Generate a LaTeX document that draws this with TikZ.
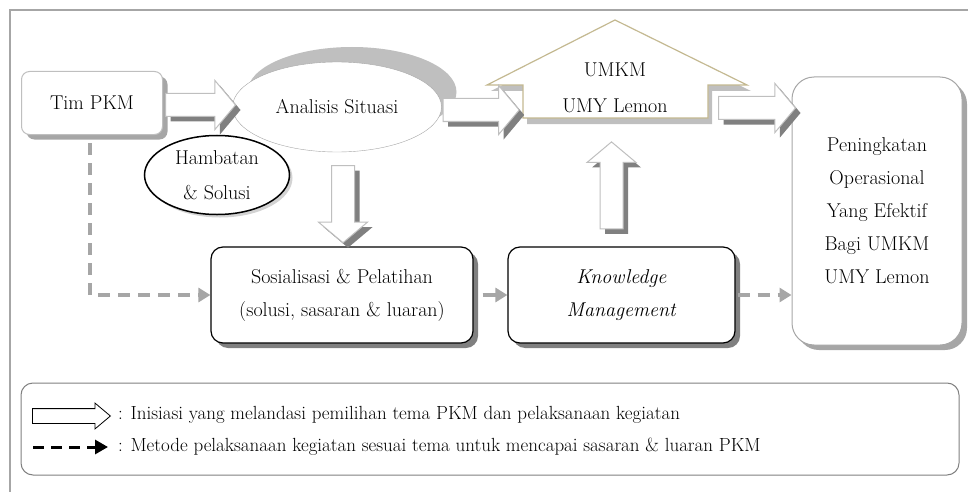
\documentclass[tikz,border=0pt]{standalone}
\usepackage{fontspec}
\usepackage{tikz}
\usetikzlibrary{shapes.arrows,shapes.geometric,arrows.meta,shadows,calc}

\definecolor{abu}{HTML}{A6A6A6}
\definecolor{abumuda}{HTML}{BFBFBF}
\definecolor{abutua}{HTML}{808080}
\definecolor{emas}{HTML}{C4B991}

\tikzset{
  huruf/.style={font=\fontsize{20}{33}\selectfont},
  kotak/.style={rectangle, rounded corners=#1, fill=white, align=center, huruf},
  bayang/.style={preaction={fill=#1, draw=none, transform canvas={shift={(5pt,-5pt)}}}},
  blok/.style={single arrow, draw=abumuda, line width=1pt, fill=white, inner xsep=0pt,
      inner ysep=11pt, single arrow head extend=13pt, single arrow tip angle=100,
      minimum height=#1, anchor=tail, bayang=abutua},
  putus/.style={draw=abu, line width=3.5pt, dash pattern=on 12pt off 8pt,
      -{Triangle[length=12pt,width=14pt]}},
}

\begin{document}
\begin{tikzpicture}[x=1pt,y=-1pt]
\useasboundingbox (0,0) rectangle (968,492);
\draw[abu, line width=1.5pt] (10,492) -- (10,10) -- (968,10);

% kotak utama
\node[kotak=8pt, draw=abumuda, line width=1pt, minimum width=141pt, minimum height=63pt,
      bayang=gray!70] (tim) at (92,103) {Tim PKM};
\node[ellipse, draw=abu, fill=white, huruf, minimum width=209pt, minimum height=90pt,
      preaction={fill=abumuda, draw=none, transform canvas={shift={(15pt,15pt)}}}]
      (ana) at (337,107) {Analisis Situasi};
\node[ellipse, draw=black, line width=1.5pt, fill=white, align=center,
      font=\fontsize{20}{35}\selectfont, minimum width=145pt, minimum height=75pt,
      drop shadow={opacity=.35, shadow xshift=3pt, shadow yshift=-3pt}]
      (ham) at (217,175) {Hambatan\\\& Solusi};

% rumah UMKM
\draw[emas, line width=1.2pt, fill=white,
      preaction={fill=abumuda, draw=none, transform canvas={shift={(4pt,-6pt)}}}]
  (615,20) -- (747,85) -- (708,85) -- (708,118) -- (523,118) -- (523,85) -- (487,85) -- cycle;
\node[align=center, font=\fontsize{20}{36}\selectfont] (umkm) at (615,88) {UMKM\\UMY Lemon};
\coordinate (dinding) at (708,108);

\node[kotak=12pt, draw=black, line width=1.2pt, minimum width=262pt, minimum height=96pt,
      bayang=abutua] (sos) at (342,295) {Sosialisasi \& Pelatihan\\(solusi, sasaran \& luaran)};
\node[kotak=12pt, draw=black, line width=1.2pt, minimum width=227pt, minimum height=96pt,
      bayang=abutua] (know) at (621.5,295) {\textit{Knowledge}\\\textit{Management}};
\node[kotak=22pt, draw=abu, line width=1pt, minimum width=170pt, minimum height=268pt,
      bayang=abu] (pen) at (877,211) {Peningkatan\\Operasional\\Yang Efektif\\Bagi UMKM\\UMY Lemon};

% panah blok
\node[blok=70pt] (p1) at ($(tim.east)+(2,2)$) {};
\node[blok=76pt] (p2) at ($(ana.east)+(1,3)$) {};
\node[blok=77pt] (p3) at ($(dinding)+(10,0)$) {};
\node[blok=77pt, rotate=-90] (p4) at ($(ana.south)+(6,13)$) {};
\node[blok=87pt, rotate=90] (p5) at ($(know.north)+(-10,-17)$) {};

% panah putus-putus
\draw[putus] ($(tim.south)+(-2,8)$) |- (sos.west);
\draw[abu, line width=3.5pt, -{Triangle[length=12pt,width=14pt]}, shorten <=9pt] (sos.east) -- (know.west);
\draw[putus] ($(know.east)+(2,0)$) -- (pen.west |- know.east);

% keterangan
\node[kotak=12pt, draw=abutua, line width=1pt, minimum width=938pt, minimum height=92pt] (leg) at (490,429) {};
\node[single arrow, draw=black, line width=0.8pt, fill=white, inner xsep=0pt, inner ysep=7pt,
      single arrow head extend=5.5pt, single arrow tip angle=80, minimum height=78pt,
      anchor=tail] (ikon1) at (32,416) {};
\node[font=\fontsize{19}{22}\selectfont, anchor=west, inner sep=0pt] (ket1) at (118,415)
      {: Inisiasi yang melandasi pemilihan tema PKM dan pelaksanaan kegiatan};
\node[font=\fontsize{19}{22}\selectfont, anchor=west, inner sep=0pt] (ket2) at (118,447)
      {: Metode pelaksanaan kegiatan sesuai tema untuk mencapai sasaran \& luaran PKM};
\coordinate (ikon2) at (33,447);
\draw[line width=3pt, dash pattern=on 11pt off 7pt, -{Triangle[length=13pt,width=14pt]},
      shorten >=10pt] (ikon2) -- (ket2.west);
\end{tikzpicture}
\end{document}
